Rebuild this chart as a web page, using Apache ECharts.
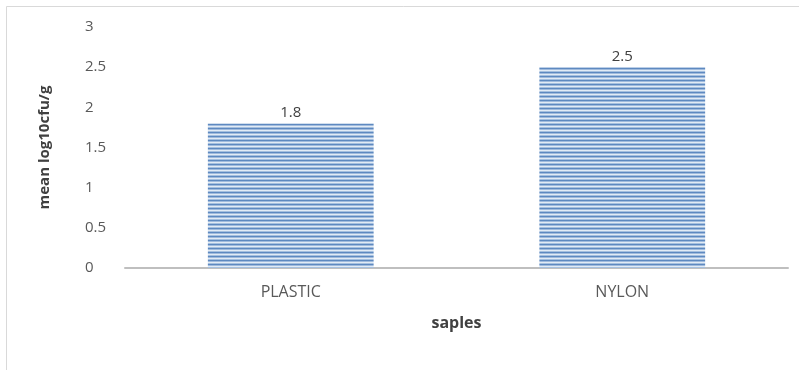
<!DOCTYPE html>
<html>
<head>
<meta charset="utf-8">
<script src="https://cdn.jsdelivr.net/npm/echarts@6/dist/echarts.min.js"></script>
<style>html,body{margin:0;padding:0;background:#fff}#c{width:799px;height:370px}</style>
</head>
<body>
<div id="c"></div>
<script>
var categories = ["PLASTIC", "NYLON"];
var values = [1.8, 2.5];
var yTicks = [0, 0.5, 1, 1.5, 2, 2.5, 3];
var xName = "saples";
var yName = "mean log10cfu/g";

var pc = document.createElement('canvas');
pc.width = 8; pc.height = 4;
var ctx = pc.getContext('2d');
var rows = ['#5e89c0', '#a0bbdd', '#e2ebf5', '#a6c0df'];
for (var i = 0; i < rows.length; i++) { ctx.fillStyle = rows[i]; ctx.fillRect(0, i, 8, 1); }

var chart = echarts.init(document.getElementById('c'), null, {renderer: 'canvas'});
var font = '"Open Sans", "Liberation Sans", sans-serif';
chart.setOption({
  animation: false,
  backgroundColor: '#fff',
  graphic: [{type: 'rect', shape: {x: 6.5, y: 6.5, width: 900, height: 500}, style: {fill: 'none', stroke: '#d9d9d9', lineWidth: 1}, silent: true}],
  grid: {left: 125, right: 11, top: 27, bottom: 102},
  xAxis: {
    type: 'category', data: categories,
    name: xName, nameLocation: 'middle', nameGap: 47,
    nameTextStyle: {fontFamily: font, fontWeight: 'bold', fontSize: 16, color: '#404040'},
    axisLine: {lineStyle: {color: '#bfbfbf', width: 2}},
    axisTick: {show: false},
    axisLabel: {fontFamily: font, fontSize: 16, color: '#595959', margin: 16}
  },
  yAxis: {
    type: 'value', min: yTicks[0], max: yTicks[yTicks.length - 1], interval: 0.5,
    name: yName, nameLocation: 'middle', nameGap: 73,
    nameTextStyle: {fontFamily: font, fontWeight: 'bold', fontSize: 15, color: '#404040'},
    axisLine: {show: false}, axisTick: {show: false}, splitLine: {show: false},
    axisLabel: {fontFamily: font, fontSize: 15, color: '#595959', align: 'left', margin: 40}
  },
  series: [{
    type: 'bar', data: values, barWidth: '50%',
    itemStyle: {color: {image: pc, repeat: 'repeat'}},
    label: {show: true, position: 'top', distance: 3, fontFamily: font, fontSize: 15, color: '#404040'}
  }]
});
</script>
</body>
</html>
